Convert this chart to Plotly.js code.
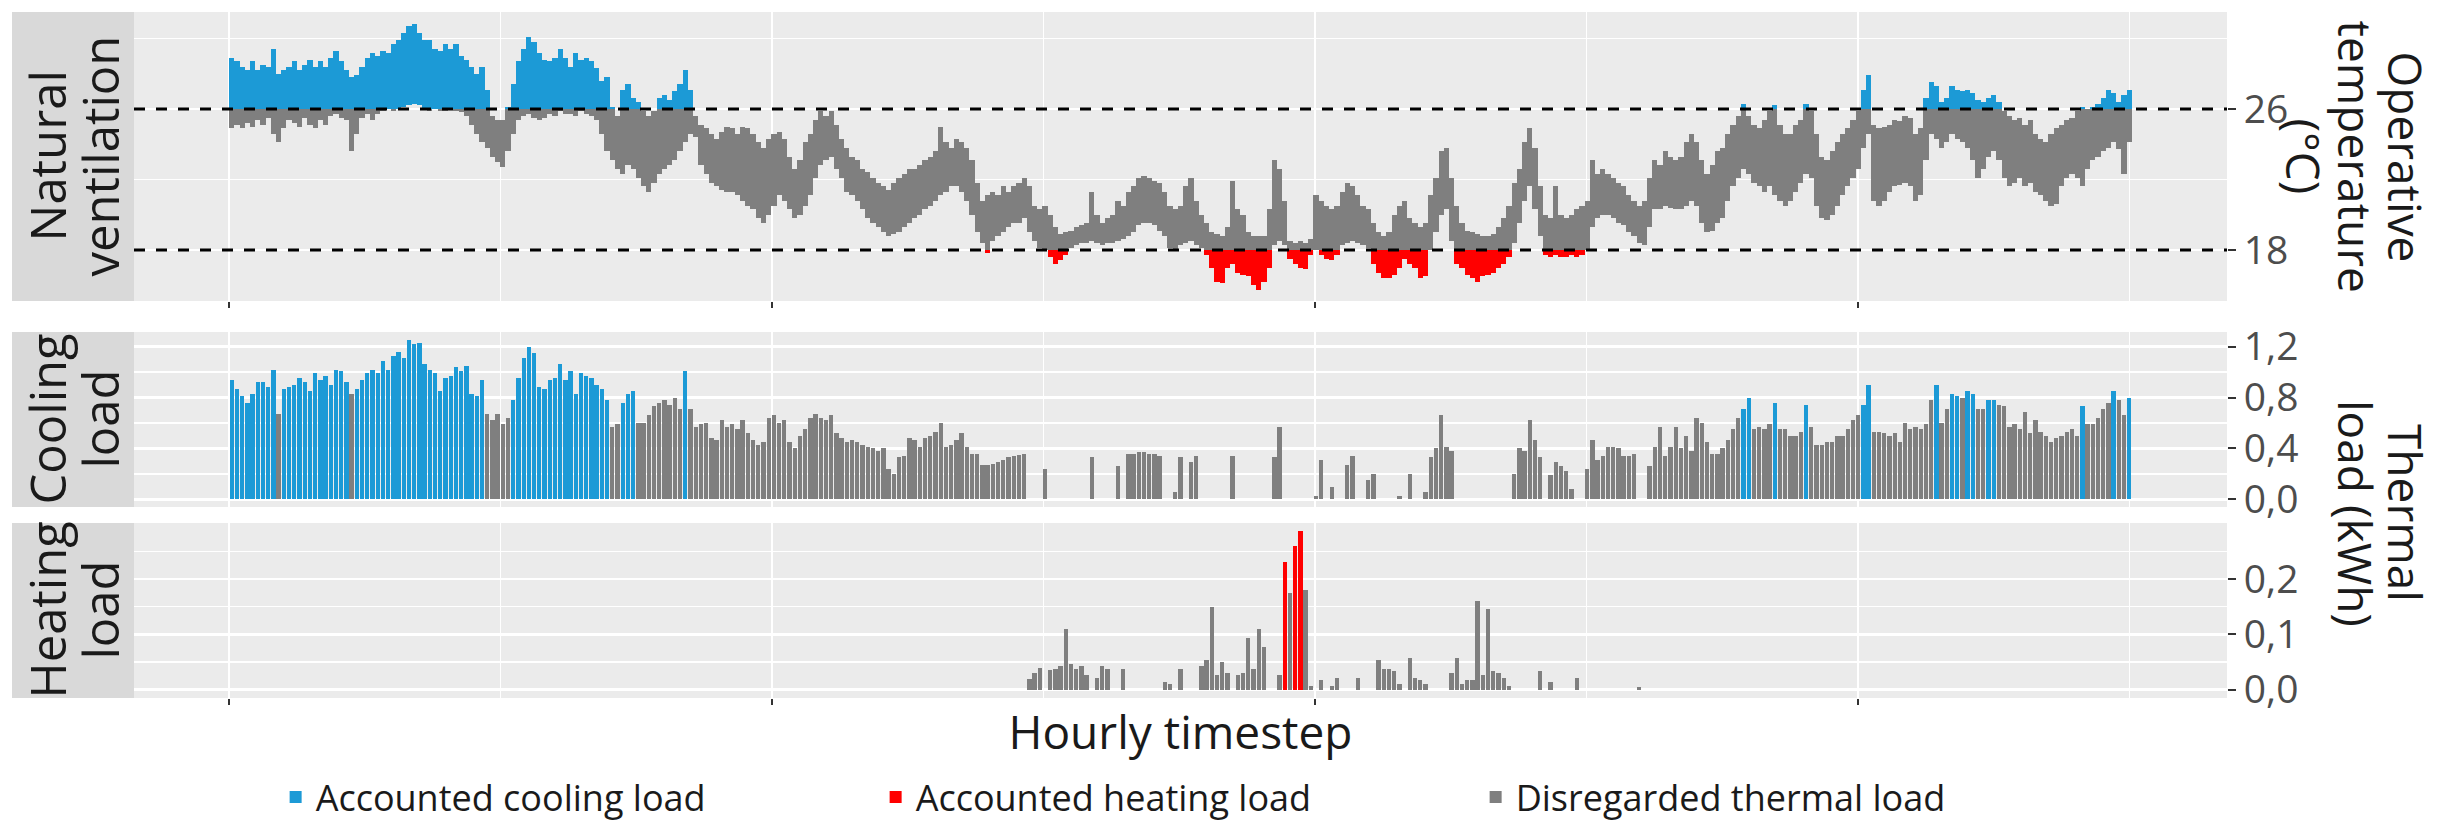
<!DOCTYPE html>
<html>
<head>
<meta charset="utf-8">
<script src="https://cdn.plot.ly/plotly-3.0.1.min.js"></script>
<style>
  html, body { margin: 0; padding: 0; background: #ffffff; }
  #chart { width: 2461px; height: 823px; }
</style>
</head>
<body>
<div id="chart"></div>
<script>
// ---------------- DATA ----------------
// Daily maximum / minimum operative temperature (°C), days 0..364 of the hourly series
const tMax = [
 28.9,28.7,28.4,28.2,28.7,28.2,28.5,28.4,29.4,28.0,
 28.2,28.4,28.7,28.2,28.5,28.8,28.4,28.7,28.4,28.9,
 29.3,28.7,28.2,27.8,27.9,28.4,28.9,29.2,29.0,29.3,
 29.2,29.7,29.9,30.3,30.7,30.8,30.3,29.9,29.9,29.4,
 29.3,29.7,29.4,29.7,29.0,28.8,28.4,28.0,28.4,27.1,
 25.6,25.4,25.4,26.1,27.4,28.7,29.4,30.1,29.8,29.2,
 28.8,28.7,28.9,29.4,28.9,28.4,29.2,28.8,28.9,28.7,
 28.3,27.6,27.8,26.1,25.6,27.1,27.4,26.6,26.4,25.9,
 25.6,25.9,26.6,26.8,26.5,27.0,27.4,28.2,27.1,25.6,
 25.1,24.9,24.6,24.3,24.7,25.0,24.9,24.6,25.0,24.9,
 24.6,24.1,23.8,24.3,24.6,24.7,24.3,23.3,22.6,23.1,
 24.1,24.6,25.4,25.9,25.6,25.9,25.1,24.3,23.8,23.3,
 23.1,22.6,22.4,22.1,21.8,21.6,21.4,21.8,22.1,22.3,
 22.6,22.6,22.8,23.1,23.3,23.6,25.0,24.1,23.8,24.3,
 24.1,23.8,23.1,21.8,20.8,21.1,21.3,21.1,21.6,21.3,
 21.6,21.8,22.1,21.6,20.5,20.3,20.5,20.0,19.3,18.9,
 19.0,19.1,19.3,19.4,19.5,21.3,20.0,19.5,19.8,20.0,
 20.8,20.5,21.3,21.6,22.1,22.2,22.1,21.9,21.8,21.3,
 20.5,20.3,20.5,21.6,22.1,20.8,20.0,19.5,19.0,18.9,
 18.8,19.3,21.9,20.3,20.0,19.0,18.8,18.8,18.8,20.3,
 23.1,22.6,20.8,18.5,18.4,18.5,18.4,18.6,21.1,20.8,
 20.5,20.3,20.5,21.3,21.8,21.6,21.1,20.5,20.3,19.5,
 19.0,18.8,19.0,20.0,20.5,20.8,19.8,19.5,19.3,19.5,
 21.1,22.1,23.6,23.8,22.1,20.5,19.5,19.1,19.0,18.9,
 18.8,18.8,18.9,19.3,19.8,20.5,21.8,22.6,24.1,24.9,
 23.8,21.6,20.0,19.8,21.6,20.0,19.8,20.0,20.3,20.5,
 20.8,23.1,22.3,22.6,22.3,22.1,21.8,21.6,21.1,20.8,
 20.5,20.8,22.1,23.1,22.8,23.6,23.3,23.1,23.3,24.1,
 24.6,24.1,23.1,22.3,22.8,23.6,23.8,24.6,25.1,25.6,
 26.3,25.6,25.1,24.9,25.4,25.9,26.2,25.1,24.6,24.6,
 25.1,25.4,26.3,25.9,24.6,23.3,23.1,23.6,24.1,24.6,
 24.9,25.4,25.9,27.1,27.9,25.1,24.9,25.0,25.1,25.4,
 25.3,25.6,25.5,24.6,24.9,26.6,27.5,27.3,26.4,26.6,
 27.3,27.1,27.0,27.1,26.9,26.5,26.4,26.6,26.8,26.4,
 25.9,25.6,25.4,25.5,25.1,25.4,24.6,24.3,24.1,24.6,
 24.9,25.1,25.4,25.5,25.9,26.1,26.0,26.1,26.3,26.6,
 27.1,26.9,26.4,26.8,27.1
];
const tMin = [
 24.9,25.1,24.9,25.2,25.0,25.4,25.1,25.5,24.6,24.1,
 24.9,25.4,25.2,25.0,25.5,25.1,24.9,25.4,25.1,25.6,
 25.7,25.5,25.4,23.6,24.6,25.5,25.7,25.4,25.7,25.9,
 26.0,25.9,26.0,26.1,26.2,26.3,26.2,26.0,25.9,26.0,
 25.9,25.9,26.0,25.9,25.8,25.6,25.1,24.6,24.1,23.8,
 23.3,23.0,22.7,23.6,24.6,25.4,25.6,25.7,25.5,25.4,
 25.5,25.7,25.6,25.9,25.7,25.7,25.6,25.9,25.7,25.6,
 25.4,24.6,23.6,23.1,22.6,22.3,22.8,22.6,22.1,21.6,
 21.3,21.8,22.3,22.6,22.8,23.1,23.6,24.1,24.6,24.4,
 22.8,22.3,21.8,21.6,21.4,21.3,21.3,21.1,20.8,20.5,
 20.3,19.8,19.5,20.0,20.5,21.1,20.8,20.3,19.8,20.0,
 20.5,21.1,22.1,22.8,23.1,23.3,22.6,22.1,21.3,21.1,
 20.8,20.3,19.8,19.5,19.3,19.0,18.8,18.9,19.0,19.3,
 19.5,19.8,20.0,20.3,20.5,20.8,21.1,21.3,21.6,21.6,
 21.3,20.8,20.0,19.0,18.4,17.8,18.5,18.8,19.0,19.3,
 19.5,19.5,19.8,19.0,18.5,18.1,18.0,17.6,17.2,17.4,
 17.7,18.1,18.3,18.4,18.4,18.5,18.4,18.3,18.4,18.4,
 18.5,18.6,18.8,19.0,19.4,19.5,19.5,19.4,19.1,18.8,
 18.1,18.0,18.3,18.4,18.5,18.3,18.1,17.7,17.0,16.2,
 16.1,17.0,17.2,16.7,16.6,16.5,16.0,15.7,16.2,17.0,
 18.3,18.5,18.3,17.5,17.2,17.0,16.9,17.7,18.0,17.7,
 17.5,17.4,17.7,18.3,18.4,18.5,18.4,18.3,18.1,17.2,
 16.7,16.4,16.4,16.6,17.0,17.5,17.2,17.0,16.4,16.5,
 18.0,19.0,20.0,20.3,18.5,17.2,17.0,16.6,16.4,16.2,
 16.5,16.6,16.7,17.0,17.2,17.6,18.4,19.5,20.8,21.6,
 20.3,18.8,17.7,17.6,17.7,17.6,17.6,17.7,17.6,17.7,
 18.0,19.3,19.8,20.0,20.0,19.8,19.5,19.4,19.0,18.8,
 18.4,18.3,19.3,20.3,20.3,20.5,20.4,20.3,20.3,20.5,
 20.8,20.5,19.5,19.0,19.1,19.5,19.8,20.8,21.6,22.1,
 22.6,22.3,21.8,21.6,21.3,21.6,21.1,20.8,20.5,20.8,
 21.3,21.8,22.3,22.1,20.5,19.8,19.7,20.0,20.5,21.1,
 21.6,22.1,22.6,23.8,24.6,20.8,20.5,20.8,21.3,21.6,
 21.7,21.8,21.6,20.8,21.1,23.1,24.6,24.3,23.8,24.1,
 24.6,24.3,24.1,23.8,23.1,22.1,22.6,23.3,23.6,23.1,
 22.1,21.6,21.8,22.1,21.6,21.8,21.3,21.1,20.8,20.5,
 20.6,21.6,22.1,22.3,22.1,21.6,22.6,23.1,23.3,23.6,
 23.8,24.1,23.7,22.3,24.1
];
// Daily peak cooling load (kWh), days 0..364
const coolLoad = [
 0.94,0.87,0.81,0.76,0.83,0.92,0.92,0.88,1.02,0.67,
 0.87,0.88,0.90,0.95,0.92,0.85,0.99,0.94,0.97,0.90,
 1.02,1.01,0.92,0.83,0.87,0.94,0.99,1.02,0.99,1.09,
 1.02,1.13,1.16,1.11,1.25,1.22,1.23,1.06,1.02,0.99,
 0.85,0.95,0.97,1.04,1.01,1.05,0.83,0.81,0.94,0.67,
 0.62,0.67,0.59,0.64,0.78,0.95,1.11,1.20,1.15,0.88,
 0.87,0.94,0.95,1.06,0.94,1.01,0.83,0.99,0.97,0.95,
 0.90,0.87,0.78,0.57,0.59,0.76,0.83,0.85,0.60,0.60,
 0.66,0.73,0.76,0.78,0.74,0.80,0.71,1.01,0.71,0.57,
 0.59,0.60,0.48,0.47,0.62,0.57,0.59,0.55,0.62,0.52,
 0.47,0.43,0.45,0.64,0.66,0.60,0.62,0.45,0.40,0.50,
 0.55,0.64,0.67,0.64,0.62,0.66,0.52,0.48,0.45,0.47,
 0.45,0.43,0.41,0.40,0.38,0.40,0.24,0.20,0.33,0.34,
 0.48,0.47,0.41,0.48,0.50,0.53,0.60,0.41,0.43,0.47,
 0.52,0.41,0.36,0.36,0.27,0.27,0.28,0.29,0.31,0.33,
 0.34,0.35,0.36,0,0,0,0.24,0,0,0,
 0,0,0,0,0,0.33,0,0,0,0,
 0.26,0,0.36,0.36,0.37,0.37,0.36,0.36,0.34,0,
 0,0.06,0.33,0,0.29,0.34,0,0,0,0,
 0,0,0.34,0,0,0,0,0,0,0,
 0.33,0.57,0,0,0,0,0,0,0.03,0.31,
 0,0.10,0,0,0.27,0.34,0,0,0.15,0.20,
 0,0,0,0,0.03,0,0.20,0,0,0.06,
 0.33,0.40,0.66,0.41,0.38,0,0,0,0,0,
 0,0,0,0,0,0,0.20,0.40,0.38,0.62,
 0.47,0.33,0,0.19,0.29,0.26,0.22,0.08,0,0,
 0.24,0.47,0.31,0.34,0.41,0.41,0.40,0.34,0.34,0.36,
 0,0,0.26,0.41,0.57,0.34,0.41,0.57,0.40,0.50,
 0.38,0.64,0.60,0.45,0.36,0.36,0.40,0.47,0.55,0.64,
 0.71,0.80,0.55,0.57,0.55,0.59,0.76,0.55,0.55,0.50,
 0.50,0.53,0.74,0.57,0.43,0.43,0.45,0.45,0.50,0.50,
 0.55,0.62,0.66,0.74,0.90,0.53,0.53,0.52,0.50,0.52,
 0.45,0.60,0.55,0.57,0.55,0.59,0.78,0.90,0.60,0.71,
 0.83,0.81,0.80,0.85,0.83,0.71,0.71,0.78,0.78,0.74,
 0.73,0.57,0.59,0.55,0.69,0.52,0.62,0.53,0.50,0.45,
 0.48,0.50,0.53,0.55,0.50,0.73,0.59,0.59,0.64,0.71,
 0.76,0.85,0.78,0.66,0.80
];
// Day ranges whose cooling load is accounted (blue)
const coolAccountedRanges = [[0,8],[10,22],[24,48],[54,72],[75,77],[87,87],[290,291],[296,296],
  [302,302],[313,314],[327,327],[330,331],[333,334],[337,338],[355,355],[361,361],[364,364]];
// Days with a heating load and the daily peak heating load (kWh)
const heatDays = [153,154,155,157,158,159,160,161,162,163,164,166,167,168,171,179,180,182,
  186,187,188,189,190,191,193,194,195,196,197,198,201,202,203,204,205,206,207,209,211,212,216,
  220,221,222,223,224,226,227,228,229,234,235,236,237,238,239,240,241,242,243,244,245,251,253,258,270];
const heatLoad = [0.02,0.03,0.04,0.035,0.038,0.042,0.11,0.046,0.038,0.042,0.026,0.022,0.042,0.038,
  0.038,0.014,0.010,0.038,0.042,0.054,0.15,0.026,0.05,0.03,0.026,0.03,0.094,0.038,0.11,0.078,
  0.026,0.23,0.174,0.26,0.286,0.18,0.006,0.018,0.006,0.022,0.022,0.054,0.038,0.038,0.034,0.010,
  0.058,0.022,0.018,0.010,0.03,0.058,0.010,0.018,0.018,0.16,0.026,0.146,0.034,0.030,0.022,0.006,
  0.034,0.014,0.022,0.004];
// Days whose heating load is accounted (red)
const heatAccountedDays = [202,204,205];

// Comfort limits (°C)
const upperLimit = 26;
const lowerLimit = 18;

// Axis ticks / labels
const xTicks = [0, 2500, 5000, 7500];
const xMinorTicks = [1250, 3750, 6250, 8750];
const tempTicks = [18, 26];
const tempMinorTicks = [22, 30];
const coolTicks = [0, 0.4, 0.8, 1.2];
const coolTickText = ['0,0', '0,4', '0,8', '1,2'];
const coolMinorTicks = [0.2, 0.6, 1.0];
const heatTicks = [0, 0.1, 0.2];
const heatTickText = ['0,0', '0,1', '0,2'];
const heatMinorTicks = [0.05, 0.15, 0.25];

const legendNames = ['Accounted cooling load', 'Accounted heating load', 'Disregarded thermal load'];
const stripText = [['Natural', 'ventilation'], ['Cooling', 'load'], ['Heating', 'load']];
const tempTitle = ['Operative', 'temperature', '(°C)'];
const loadTitle = ['Thermal', 'load (kWh)'];
const xTitle = 'Hourly timestep';

// ---------------- STYLE ----------------
const BLUE = '#1c9ad6', RED = '#ff0000', GRAY = '#7f7f7f';
const FONT = 'Open Sans, Lato, DejaVu Sans, sans-serif';
const HOURS_PER_DAY = 24;
const dayHour = d => d * HOURS_PER_DAY + HOURS_PER_DAY / 2;

// ---------------- BUILD TRACES ----------------
const seg = () => ({x: [], y: [], base: []});
const tRed = seg(), tGray = seg(), tBlue = seg();
for (let d = 0; d < tMax.length; d++) {
  const lo = tMin[d], hi = tMax[d], x = dayHour(d);
  if (lo < lowerLimit) {
    const top = Math.min(hi, lowerLimit);
    tRed.x.push(x); tRed.base.push(lo); tRed.y.push(top - lo);
  }
  const gLo = Math.max(lo, lowerLimit), gHi = Math.min(hi, upperLimit);
  if (gHi > gLo) { tGray.x.push(x); tGray.base.push(gLo); tGray.y.push(gHi - gLo); }
  if (hi > upperLimit) {
    const b = Math.max(lo, upperLimit);
    tBlue.x.push(x); tBlue.base.push(b); tBlue.y.push(hi - b);
  }
}
const tempTrace = (s, color) => ({
  type: 'bar', x: s.x, y: s.y, base: s.base, width: HOURS_PER_DAY,
  marker: {color: color, line: {width: 0}}, xaxis: 'x', yaxis: 'y',
  showlegend: false, hoverinfo: 'skip'
});

const isCoolAccounted = d => coolAccountedRanges.some(r => d >= r[0] && d <= r[1]);
const cBlue = {x: [], y: []}, cGray = {x: [], y: []};
coolLoad.forEach((v, d) => {
  if (v <= 0) return;
  const t = isCoolAccounted(d) ? cBlue : cGray;
  t.x.push(dayHour(d)); t.y.push(v);
});
const hRed = {x: [], y: []}, hGray = {x: [], y: []};
heatDays.forEach((d, i) => {
  const t = heatAccountedDays.includes(d) ? hRed : hGray;
  t.x.push(dayHour(d)); t.y.push(heatLoad[i]);
});
const BAR_W = 20;
const loadTrace = (s, color, ax, name, group, show) => ({
  type: 'bar', x: s.x, y: s.y, width: BAR_W, name: name, legendgroup: group, showlegend: show,
  marker: {color: color, line: {width: 0}}, xaxis: 'x' + ax, yaxis: 'y' + ax, hoverinfo: 'skip'
});

const data = [
  tempTrace(tGray, GRAY), tempTrace(tRed, RED), tempTrace(tBlue, BLUE),
  loadTrace(cBlue, BLUE, '2', legendNames[0], 'cool', true),
  loadTrace(hRed, RED, '3', legendNames[1], 'heat', true),
  loadTrace(cGray, GRAY, '2', legendNames[2], 'dis', true),
  loadTrace(hGray, GRAY, '3', legendNames[2], 'dis', false)
];

// ---------------- LAYOUT ----------------
const W = 2461, H = 823;
const M = {l: 134, r: 234, t: 12, b: 125};
const PW = W - M.l - M.r;
const px2x = px => (px - M.l) / PW;           // figure pixel -> paper x
const X_RANGE = [-438, 9198];
const gridMinor = vals => ({tickmode: 'array', tickvals: vals, showgrid: true, gridcolor: '#ffffff', gridwidth: 1.3, ticks: ''});
const xBase = (anchor, ticks) => ({
  anchor: anchor, range: X_RANGE, tickmode: 'array', tickvals: xTicks, showticklabels: false,
  ticks: ticks, ticklen: 6, tickwidth: 2, tickcolor: '#333333',
  showgrid: true, gridcolor: '#ffffff', gridwidth: 2.6, minor: gridMinor(xMinorTicks),
  zeroline: false, showline: false, fixedrange: true, automargin: false
});
const yBase = (anchor, domain, range, vals, text, minor) => ({
  anchor: anchor, domain: domain, range: range, side: 'right',
  tickmode: 'array', tickvals: vals, ticktext: text,
  ticks: 'outside', ticklen: 8, tickwidth: 2, tickcolor: '#333333',
  tickfont: {size: 39, color: '#4d4d4d'},
  showgrid: true, gridcolor: '#ffffff', gridwidth: 2.6, minor: gridMinor(minor),
  zeroline: false, showline: false, fixedrange: true, automargin: false
});

const D1 = [0.5787, 1], D2 = [0.2784, 0.5335], D3 = [0, 0.2551];
const STRIP_X0 = px2x(12);

const strip = yref => ({type: 'rect', xref: 'paper', yref: yref, x0: STRIP_X0, x1: 0, y0: 0, y1: 1,
  fillcolor: '#d9d9d9', line: {width: 0}, layer: 'below'});
const limitLine = v => ({type: 'line', xref: 'paper', x0: 0, x1: 1, yref: 'y', y0: v, y1: v,
  line: {color: '#000000', width: 3, dash: '11px,11px'}, layer: 'above'});

const rotText = (text, x, yref, y, angle, size) => ({
  text: text, xref: 'paper', yref: yref, x: x, y: y, xanchor: 'center', yanchor: 'middle',
  textangle: angle, showarrow: false, font: {size: size, color: '#1a1a1a'}});

const stripRefs = ['y domain', 'y2 domain', 'y3 domain'];
const annotations = [];
stripText.forEach((lines, i) => {
  annotations.push(rotText(lines[0], px2x(47), stripRefs[i], 0.5, -90, 49));
  annotations.push(rotText(lines[1], px2x(100), stripRefs[i], 0.5, -90, 49));
});
const titleX = [px2x(2406), px2x(2356), px2x(2304)];
tempTitle.forEach((t, i) => annotations.push(rotText(t, titleX[i], 'y domain', 0.5, 90, 46)));
const loadTitleY = (H - M.b - 513) / (H - M.t - M.b);
loadTitle.forEach((t, i) => annotations.push(rotText(t, titleX[i], 'paper', loadTitleY, 90, 46)));

const layout = {
  width: W, height: H,
  margin: {l: M.l, r: M.r, t: M.t, b: M.b, pad: 0, autoexpand: false},
  paper_bgcolor: '#ffffff', plot_bgcolor: '#ebebeb',
  font: {family: FONT, size: 38, color: '#1a1a1a'},
  barmode: 'overlay', bargap: 0,
  showlegend: true,
  legend: {orientation: 'h', xref: 'container', yref: 'container', x: 0.112, xanchor: 'left',
    y: 1 - 797 / H, yanchor: 'middle',
    font: {size: 36, color: '#1a1a1a'}, entrywidth: 555, itemwidth: 30,
    bgcolor: 'rgba(0,0,0,0)', traceorder: 'normal'},
  xaxis: xBase('y', 'outside'),
  xaxis2: xBase('y2', ''),
  xaxis3: Object.assign(xBase('y3', 'outside'), {
    title: {text: xTitle, font: {size: 46, color: '#1a1a1a'}, standoff: 12}}),
  yaxis: yBase('x', D1, [15.1, 31.5], tempTicks, tempTicks.map(String), tempMinorTicks),
  yaxis2: yBase('x2', D2, [-0.06, 1.315], coolTicks, coolTickText, coolMinorTicks),
  yaxis3: yBase('x3', D3, [-0.015, 0.301], heatTicks, heatTickText, heatMinorTicks),
  shapes: [
    strip('y domain'), strip('y2 domain'), strip('y3 domain'),
    limitLine(upperLimit), limitLine(lowerLimit)
  ],
  annotations: annotations
};

Plotly.newPlot('chart', data, layout, {displayModeBar: false, staticPlot: true});
</script>
</body>
</html>
